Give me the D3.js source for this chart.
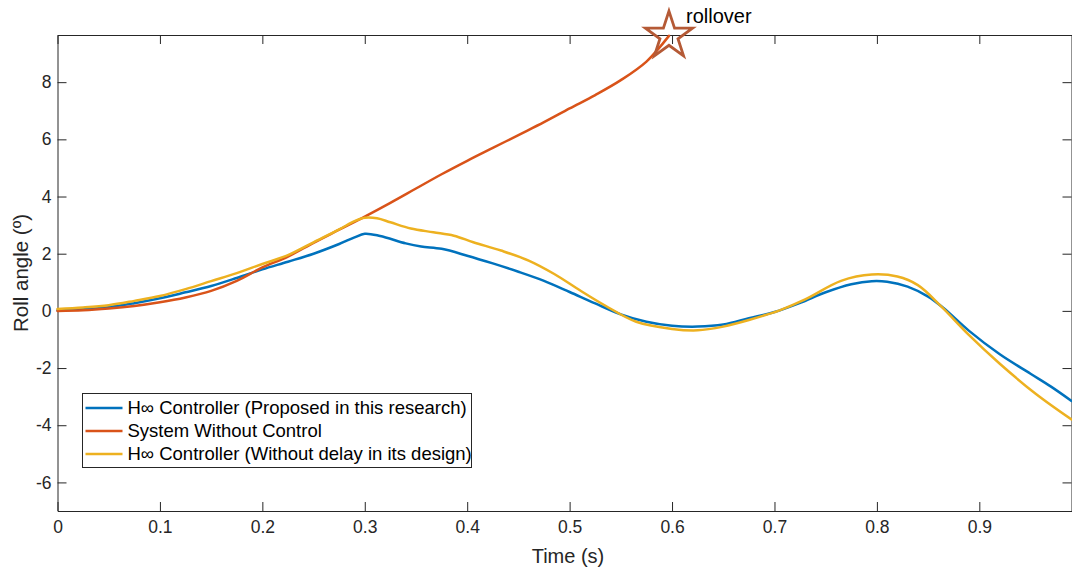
<!DOCTYPE html>
<html>
<head>
<meta charset="utf-8">
<script src="https://cdn.jsdelivr.net/npm/d3@7"></script>
<style>
    body { margin: 0; background: #fff; }
    svg { display: block; font-family: "Liberation Sans", Arial, sans-serif; }
    .axis path, .axis line { stroke: #262626; stroke-width: 1; }
    .axis text { fill: #262626; font-size: 17.5px; font-family: "Liberation Sans", Arial, sans-serif; }
    .series { fill: none; stroke-width: 2.5; stroke-linejoin: round; stroke-linecap: round; }
</style>
</head>
<body>
<div id="chart"></div>
<script>
// Data: time (s) and roll angle (degrees).
var blueT = [0, 0.025, 0.05, 0.075, 0.1, 0.125, 0.15, 0.175, 0.2, 0.225, 0.25, 0.275, 0.29, 0.3,
    0.315, 0.34, 0.355, 0.375, 0.4, 0.425, 0.45, 0.475, 0.5, 0.525, 0.55, 0.575, 0.6, 0.625,
    0.65, 0.675, 0.7, 0.725, 0.75, 0.775, 0.795, 0.81, 0.83, 0.85, 0.865, 0.89, 0.92, 0.95, 0.97, 0.99];
var blueV = [0.02, 0.06, 0.13, 0.27, 0.44, 0.65, 0.87, 1.15, 1.45, 1.72, 2.0, 2.34, 2.57, 2.70,
    2.62, 2.36, 2.25, 2.17, 1.93, 1.66, 1.37, 1.05, 0.66, 0.26, -0.12, -0.38, -0.52, -0.55,
    -0.48, -0.26, -0.04, 0.28, 0.65, 0.93, 1.04, 1.02, 0.85, 0.50, 0.10, -0.70, -1.52, -2.20, -2.65, -3.15];

var orangeT = [0, 0.025, 0.05, 0.075, 0.1, 0.125, 0.15, 0.175, 0.2, 0.225, 0.25, 0.275, 0.3,
    0.325, 0.35, 0.375, 0.4, 0.425, 0.45, 0.475, 0.5, 0.525, 0.55, 0.575, 0.597];
var orangeV = [0.0, 0.02, 0.08, 0.17, 0.30, 0.47, 0.70, 1.05, 1.52, 1.90, 2.38, 2.84, 3.30,
    3.78, 4.28, 4.78, 5.25, 5.70, 6.15, 6.60, 7.08, 7.55, 8.07, 8.72, 9.62];

var yellowT = [0, 0.025, 0.05, 0.075, 0.1, 0.125, 0.15, 0.175, 0.2, 0.225, 0.25, 0.275, 0.29, 0.3,
    0.312, 0.325, 0.345, 0.367, 0.387, 0.406, 0.433, 0.46, 0.485, 0.51, 0.535, 0.565, 0.6, 0.625,
    0.65, 0.675, 0.705, 0.73, 0.765, 0.795, 0.82, 0.84, 0.863, 0.89, 0.92, 0.955, 0.99];
var yellowV = [0.07, 0.12, 0.2, 0.35, 0.52, 0.76, 1.04, 1.32, 1.64, 1.95, 2.4, 2.85, 3.14, 3.26,
    3.24, 3.1, 2.88, 2.75, 2.63, 2.40, 2.11, 1.76, 1.29, 0.72, 0.18, -0.38, -0.63, -0.68,
    -0.55, -0.32, 0.02, 0.40, 1.05, 1.27, 1.20, 0.90, 0.15, -0.85, -1.85, -2.9, -3.8];

var seriesNames = ['H\u221e Controller (Proposed in this research)', 'System Without Control',
    'H\u221e Controller (Without delay in its design)'];
var seriesColors = ['#0072BD', '#D95319', '#EDB120'];

var xTicks = [0, 0.1, 0.2, 0.3, 0.4, 0.5, 0.6, 0.7, 0.8, 0.9];
var xTickLabels = ['0', '0.1', '0.2', '0.3', '0.4', '0.5', '0.6', '0.7', '0.8', '0.9'];
var yTicks = [-6, -4, -2, 0, 2, 4, 6, 8];
var yTickLabels = ['-6', '-4', '-2', '0', '2', '4', '6', '8'];

// Rollover marker and its label.
var rolloverT = [0.597];
var rolloverV = [9.62];
var rolloverLabel = 'rollover';

var Chart = Chart || {};

Chart.initialise = function(selector, width, height) {
    var svg = d3.select(selector).append('svg')
        .attr('width', width)
        .attr('height', height);
    return {
        svg: svg,
        width: width,
        height: height,
        scale: {
            x: d3.scaleLinear().domain([0, 0.99]).range([57.5, 1071.5]),
            y: d3.scaleLinear().domain([-7, 9.65]).range([511, 35])
        }
    };
};

// Box axes with inward ticks, like MATLAB.
Chart.draw_axes = function(chart) {
    var x = chart.scale.x, y = chart.scale.y;
    var g = chart.svg.append('g');
    g.append('g').attr('class', 'axis')
        .attr('transform', 'translate(0,' + y.range()[0] + ')')
        .call(d3.axisBottom(x).tickValues(xTicks)
            .tickFormat(function(d, i) { return xTickLabels[i]; })
            .tickSizeInner(-9).tickSizeOuter(0).tickPadding(10));
    g.append('g').attr('class', 'axis')
        .attr('transform', 'translate(0,' + y.range()[1] + ')')
        .call(d3.axisTop(x).tickValues(xTicks).tickFormat('')
            .tickSizeInner(-9).tickSizeOuter(0));
    g.append('g').attr('class', 'axis')
        .attr('transform', 'translate(' + x.range()[0] + ',0)')
        .call(d3.axisLeft(y).tickValues(yTicks)
            .tickFormat(function(d, i) { return yTickLabels[i]; })
            .tickSizeInner(-9).tickSizeOuter(0).tickPadding(6));
    g.append('g').attr('class', 'axis')
        .attr('transform', 'translate(' + x.range()[1] + ',0)')
        .call(d3.axisRight(y).tickValues(yTicks).tickFormat('')
            .tickSizeInner(-9).tickSizeOuter(0));

    chart.svg.append('text')
        .attr('x', 568).attr('y', 563)
        .attr('text-anchor', 'middle')
        .attr('fill', '#262626').attr('font-size', '20px')
        .text('Time (s)');
    chart.svg.append('text')
        .attr('transform', 'translate(28,273) rotate(-90)')
        .attr('text-anchor', 'middle')
        .attr('fill', '#262626').attr('font-size', '20.5px')
        .text('Roll angle (\u00ba)');
};

Chart.draw_series = function(chart) {
    var line = d3.line()
        .x(function(d) { return chart.scale.x(d[0]); })
        .y(function(d) { return chart.scale.y(d[1]); })
        .curve(d3.curveCatmullRom.alpha(0.5));
    var data = [d3.zip(blueT, blueV), d3.zip(orangeT, orangeV), d3.zip(yellowT, yellowV)];
    chart.svg.selectAll('.series').data(data).enter()
        .append('path')
        .attr('class', 'series')
        .attr('stroke', function(d, i) { return seriesColors[i]; })
        .attr('d', line);

    // Pentagram marking where the uncontrolled system rolls over.
    chart.svg.selectAll('.marker').data(d3.zip(rolloverT, rolloverV)).enter()
        .append('path')
        .attr('class', 'marker')
        .attr('transform', function(d) {
            return 'translate(' + chart.scale.x(d[0]) + ',' + chart.scale.y(d[1]) + ')';
        })
        .attr('d', d3.symbol(d3.symbolStar, 690))
        .attr('fill', 'none')
        .attr('stroke', '#B55A36')
        .attr('stroke-width', 2.8)
        .attr('stroke-linejoin', 'miter');
    chart.svg.append('text')
        .attr('x', chart.scale.x(rolloverT[0]) + 17)
        .attr('y', 23)
        .attr('font-size', '20px')
        .attr('fill', '#000')
        .text(rolloverLabel);
};

Chart.draw_legend = function(chart) {
    var lg = chart.svg.append('g').attr('transform', 'translate(82.5,393.5)');
    lg.append('rect')
        .attr('width', 389).attr('height', 74)
        .attr('fill', '#fff').attr('stroke', '#262626').attr('stroke-width', 1);
    var rows = lg.selectAll('.entry').data(seriesNames).enter()
        .append('g')
        .attr('transform', function(d, i) { return 'translate(0,' + (14.5 + i * 23) + ')'; });
    rows.append('line')
        .attr('x1', 3).attr('x2', 40)
        .attr('stroke', function(d, i) { return seriesColors[i]; })
        .attr('stroke-width', 2.5);
    rows.append('text')
        .attr('x', 45).attr('dy', '0.35em')
        .attr('font-size', '18.5px')
        .attr('fill', '#000')
        .text(function(d) { return d; });
};

var chart = Chart.initialise('#chart', 1072, 571);
Chart.draw_axes(chart);
Chart.draw_series(chart);
Chart.draw_legend(chart);
</script>
</body>
</html>
